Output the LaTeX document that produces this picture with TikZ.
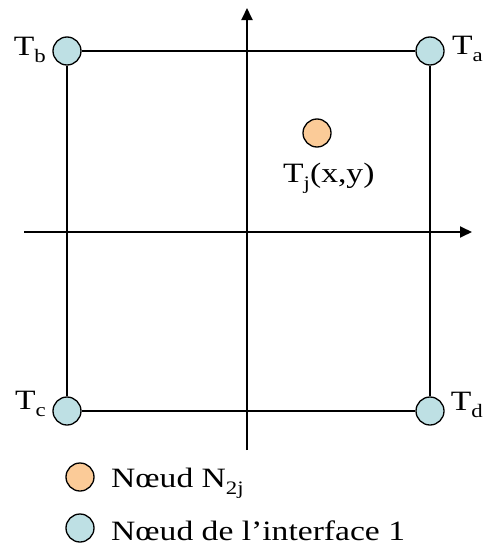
\documentclass[tikz,border=0pt]{standalone}
\usepackage{fontspec}
\setmainfont{Liberation Serif}[FakeStretch=1.2]
\usetikzlibrary{arrows.meta}
\definecolor{nodeblue}{HTML}{BEE0E4}
\definecolor{nodeorange}{HTML}{FBCB98}
\newcommand{\sbx}[1]{\raisebox{-7pt}{\fontsize{19}{19}\selectfont #1}}
\begin{document}
\begin{tikzpicture}[x=1pt,y=-1pt,
  bluenode/.style={circle,draw=black,line width=1.3pt,fill=nodeblue,minimum size=28pt,inner sep=0pt},
  orangenode/.style={circle,draw=black,line width=1.3pt,fill=nodeorange,minimum size=28pt,inner sep=0pt},
  edge/.style={line width=1.5pt},
  axis/.style={line width=1.8pt,-{Triangle[length=12pt,width=11pt]}},
  lbl/.style={font=\fontsize{28}{28}\selectfont,inner sep=0pt}]
\useasboundingbox (0,0) rectangle (484,546);
\coordinate (xl) at (24,232);
\coordinate (xr) at (472,232);
\coordinate (yb) at (247,450);
\coordinate (yt) at (247,8);
\draw[axis] (xl) -- (xr);
\draw[axis] (yb) -- (yt);
\node[bluenode] (b) at (67,51) {};
\node[bluenode] (a) at (430,51) {};
\node[bluenode] (c) at (67,411) {};
\node[bluenode] (d) at (430,411) {};
\draw[edge] (b) -- (a);
\draw[edge] (a) -- (d);
\draw[edge] (d) -- (c);
\draw[edge] (c) -- (b);
\node[lbl,anchor=base east] (lb) at (46,55) {T\sbx{b}};
\node[lbl,anchor=base east] (la) at (483,54) {T\sbx{a}};
\node[lbl,anchor=base east] (lc) at (46,409) {T\sbx{c}};
\node[lbl,anchor=base east] (ld) at (483,410) {T\sbx{d}};
\node[orangenode] (j) at (317,133) {};
\node[lbl,anchor=base west] (lj) at (283,182) {T\sbx{j}(x,y)};
\node[orangenode] (lego) at (80,477) {};
\node[lbl,anchor=base west] (legot) at (111,487) {Nœud N\sbx{2j}};
\node[bluenode] (legb) at (80,528) {};
\node[lbl,anchor=base west] (legbt) at (111,540) {Nœud de l’interface 1};
\end{tikzpicture}
\end{document}
